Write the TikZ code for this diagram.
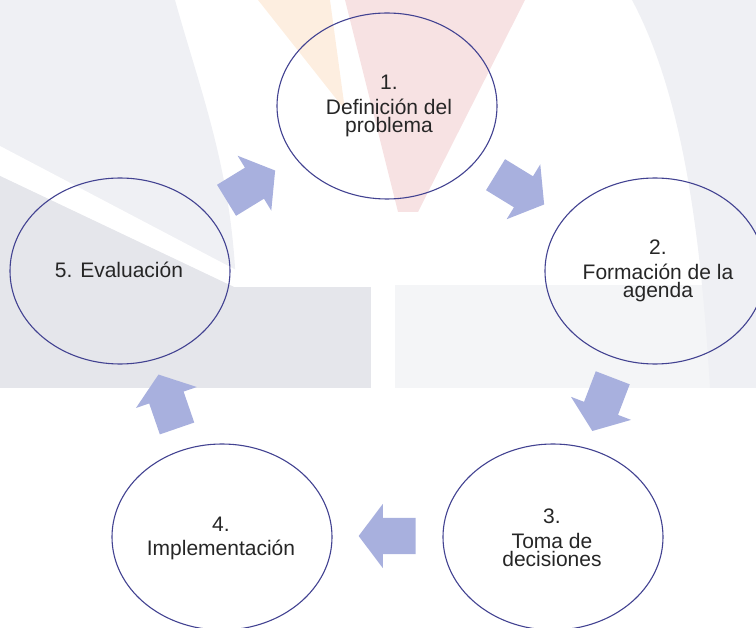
\documentclass[tikz,border=0pt]{standalone}
\usepackage{fontspec}
\setmainfont{Liberation Sans}
\usetikzlibrary{shapes.geometric,shapes.arrows}
\definecolor{ringline}{RGB}{66,66,145}
\definecolor{arrowfill}{RGB}{168,176,222}
\definecolor{wmgray}{RGB}{239,240,244}
\definecolor{wmgraydark}{RGB}{229,230,235}
\definecolor{wmgraylight}{RGB}{244,245,247}
\definecolor{wmorange}{RGB}{253,238,224}
\definecolor{wmpink}{RGB}{247,226,227}
\begin{document}
\begin{tikzpicture}[x=1pt,y=-1pt,
  ring/.style={ellipse, draw=ringline, line width=1.1pt, minimum width=220pt,
    minimum height=186pt, inner sep=0pt},
  lbl/.style={align=center, text=black!85, font=\fontsize{21}{18}\selectfont,
    inner sep=0pt},
  blockarrow/.style={single arrow, fill=arrowfill, draw=none,
    minimum height=57pt, single arrow head extend=14pt,
    single arrow tip angle=106, inner sep=0pt,
    text height=18pt, text depth=18pt, text width=0pt},
]
\useasboundingbox (0,0) rectangle (756,628);
\clip (0,0) rectangle (756,628);

% faint background emblem
\fill[wmgray] (0,0) -- (175,0) .. controls (200,90) and (232,170) .. (236,288)
  -- (0,288) -- cycle;
\fill[white] (0,146) -- (236,270) -- (236,288) -- (0,176) -- cycle;
\fill[wmgraydark] (0,176) -- (236,288) -- (0,288) -- cycle;
\fill[wmgraydark] (0,287) rectangle (371,388);
\fill[wmgraylight] (395,285) rectangle (756,388);
\fill[wmgray] (632,0) -- (756,0) -- (756,388) -- (710,388)
  .. controls (700,220) and (680,90) .. (632,0) -- cycle;
\fill[wmorange] (258,0) -- (330,0) -- (345,110) -- cycle;
\fill[wmpink] (345,0) -- (525,0) -- (418,212) -- (398,212) -- cycle;

% stages of the cycle
\node[ring] (c1) at (387,106) {};
\node[ring] (c2) at (655,271) {};
\node[ring] (c3) at (553,537) {};
\node[ring] (c4) at (222,537) {};
\node[ring] (c5) at (120,271) {};

\node[lbl] (t1) at (389,106) {1.\\[7pt]Definición del\\problema};
\node[lbl] (t2) at (658,271) {2.\\[7pt]Formación de la\\agenda};
\node[lbl] (t3) at (552,538) {3.\\[7pt]Toma de\\decisiones};
\node[lbl] (t4) at (221,538) {4.\\[6pt]Implementación};
\node[lbl] (t5) at (119,270) {5. Evaluación};

% arrows between the stages
\node[blockarrow, rotate=-31.5] (a12) at (514,186) {};
\node[blockarrow, rotate=-111] (a23) at (605,398) {};
\node[blockarrow, rotate=180] (a34) at (394,536) {};
\node[blockarrow, rotate=109] (a45) at (170,408) {};
\node[blockarrow, rotate=31.5] (a51) at (245,189) {};
\end{tikzpicture}
\end{document}
